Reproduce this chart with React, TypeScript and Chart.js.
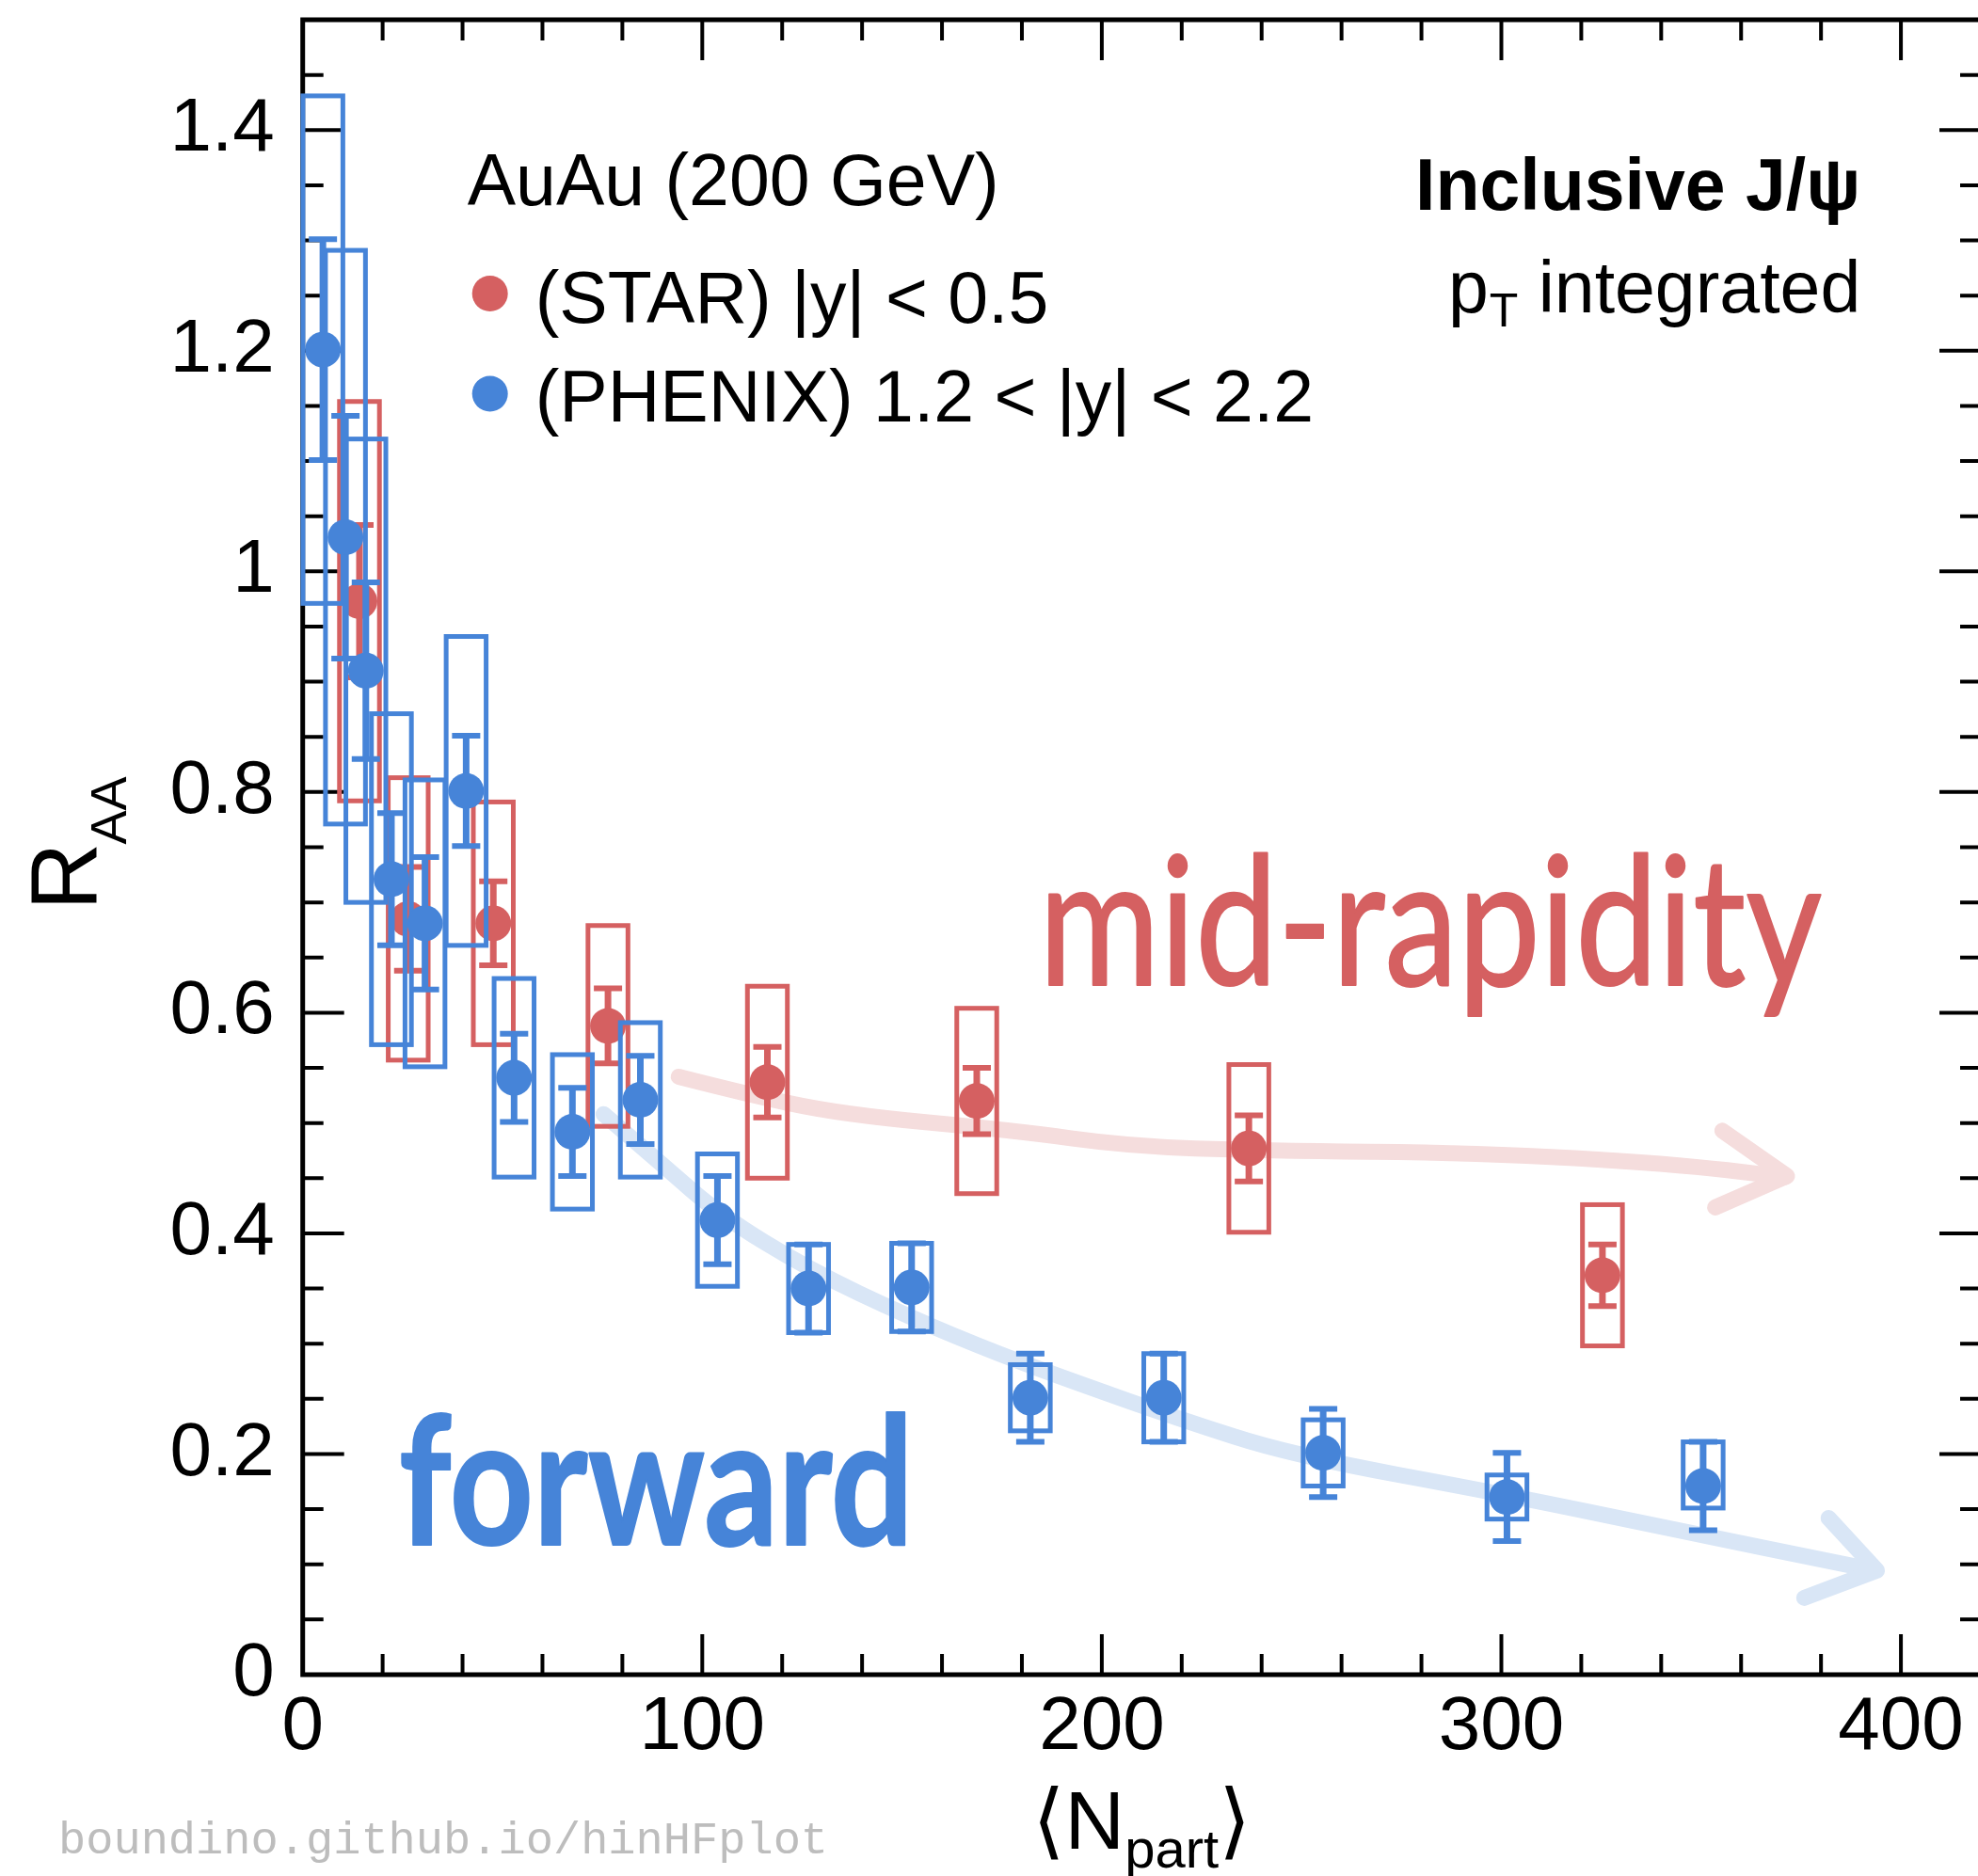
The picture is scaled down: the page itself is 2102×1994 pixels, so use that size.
import React, { useEffect, useRef } from "react";
import { Chart, registerables } from "chart.js";

Chart.register(...registerables);

const CANVAS_W = 2112;
const CANVAS_H = 1994;
const SANS = "'Liberation Sans', Arial, Helvetica, sans-serif";
const HAND = "Lato, 'Open Sans', sans-serif";
const RED = "#d56061";
const BLUE = "#4684d8";
const RED_TREND = "#f5dddd";
const BLUE_TREND = "#d9e6f6";

// STAR, |y| < 0.5 (mid-rapidity)
const starNpart = [14.2, 26.4, 47.7, 76.4, 116.3, 168.7, 236.8, 325.3];
const starRaa = [0.973, 0.685, 0.681, 0.588, 0.537, 0.52, 0.477, 0.362];
const starStat = [0.069, 0.047, 0.038, 0.034, 0.032, 0.03, 0.03, 0.028];
const starSyst = [0.181, 0.128, 0.11, 0.091, 0.087, 0.084, 0.076, 0.064];

// PHENIX, 1.2 < |y| < 2.2 (forward)
const phenixNpart = [5.05, 10.7, 15.8, 22.2, 30.6, 40.9, 52.9, 67.5, 84.5, 103.8, 126.6, 152.4, 182.1, 215.5, 255.4, 301.4, 350.5];
const phenixRaa = [1.201, 1.031, 0.91, 0.721, 0.681, 0.801, 0.541, 0.492, 0.521, 0.412, 0.35, 0.351, 0.251, 0.251, 0.201, 0.161, 0.171];
const phenixStat = [0.1, 0.11, 0.08, 0.06, 0.06, 0.05, 0.04, 0.04, 0.04, 0.04, 0.04, 0.04, 0.04, 0.04, 0.04, 0.04, 0.04];
const phenixSystUp = [0.23, 0.26, 0.21, 0.15, 0.13, 0.14, 0.09, 0.07, 0.07, 0.06, 0.04, 0.04, 0.03, 0.04, 0.03, 0.02, 0.04];
const phenixSystDown = [0.23, 0.26, 0.21, 0.15, 0.13, 0.14, 0.09, 0.07, 0.07, 0.06, 0.04, 0.04, 0.03, 0.04, 0.03, 0.02, 0.02];

// half width of the systematic boxes, in Npart
const BOX_HALF = 5;

// axis ticks
const xTickValues = [0, 100, 200, 300, 400];
const xTickLabels = ["0", "100", "200", "300", "400"];
const yTickValues = [0, 0.2, 0.4, 0.6, 0.8, 1, 1.2, 1.4];
const yTickLabels = ["0", "0.2", "0.4", "0.6", "0.8", "1", "1.2", "1.4"];
const X_MIN = 0, X_MAX = 420, X_MINOR = 20;
const Y_MIN = 0, Y_MAX = 1.5, Y_MINOR = 0.05;

// hand-drawn trend arrows (Npart, RAA)
const midTrendNpart = [94.1, 110.3, 134.4, 178.6, 206.8, 240, 294.7, 342, 371.1];
const midTrendRaa = [0.542, 0.527, 0.508, 0.493, 0.479, 0.475, 0.473, 0.4635, 0.451];
const midHeadNpart = [355.3, 371.5, 353.5];
const midHeadRaa = [0.493, 0.452, 0.4235];
const fwdTrendNpart = [75.3, 89.9, 104.3, 126.8, 151.9, 174.6, 195, 218.5, 247.4, 301.5, 342, 388.6, 393];
const fwdTrendRaa = [0.508, 0.4626, 0.417, 0.367, 0.324, 0.29, 0.263, 0.233, 0.199, 0.163, 0.1324, 0.098, 0.095];
const fwdHeadNpart = [381.9, 394, 375.8];
const fwdHeadRaa = [0.142, 0.0944, 0.0696];

// hand-written region labels, anchored in data space
const handLabels = [
  { text: "mid-rapidity", color: RED, from: 186.6, to: 380.2, raa: 0.625, size: 190, weight: 400, extra: 2 },
  { text: "forward", color: BLUE, from: 24.5, to: 151.0, raa: 0.1176, size: 190, weight: 700, extra: 2 },
];

type Sc = { getPixelForValue: (v: number) => number };

function strokeSmooth(ctx: CanvasRenderingContext2D, pts: { x: number; y: number }[]) {
  ctx.beginPath();
  ctx.moveTo(pts[0].x, pts[0].y);
  for (let i = 1; i < pts.length - 1; i++) {
    const mx = (pts[i].x + pts[i + 1].x) / 2;
    const my = (pts[i].y + pts[i + 1].y) / 2;
    ctx.quadraticCurveTo(pts[i].x, pts[i].y, mx, my);
  }
  const last = pts[pts.length - 1];
  ctx.lineTo(last.x, last.y);
  ctx.stroke();
}

function drawTrend(ctx: CanvasRenderingContext2D, xs: Sc, ys: Sc, nx: number[], ny: number[], hx: number[], hy: number[], color: string) {
  ctx.save();
  ctx.strokeStyle = color;
  ctx.lineWidth = 17;
  ctx.lineCap = "round";
  ctx.lineJoin = "round";
  strokeSmooth(ctx, nx.map((v, i) => ({ x: xs.getPixelForValue(v), y: ys.getPixelForValue(ny[i]) })));
  ctx.beginPath();
  hx.forEach((v, i) => {
    const px = xs.getPixelForValue(v);
    const py = ys.getPixelForValue(hy[i]);
    if (i === 0) ctx.moveTo(px, py);
    else ctx.lineTo(px, py);
  });
  ctx.stroke();
  ctx.restore();
}

function drawHand(ctx: CanvasRenderingContext2D, xs: Sc, ys: Sc, lbl: (typeof handLabels)[number]) {
  ctx.save();
  ctx.font = `${lbl.weight} ${lbl.size}px ${HAND}`;
  ctx.textAlign = "left";
  ctx.textBaseline = "alphabetic";
  const m = ctx.measureText(lbl.text);
  const ink = m.actualBoundingBoxLeft + m.actualBoundingBoxRight + lbl.extra;
  const x0 = xs.getPixelForValue(lbl.from);
  const x1 = xs.getPixelForValue(lbl.to);
  const y = ys.getPixelForValue(lbl.raa);
  ctx.translate(x0, y);
  ctx.scale((x1 - x0) / ink, 1);
  ctx.translate(m.actualBoundingBoxLeft + lbl.extra / 2, 0);
  ctx.fillStyle = lbl.color;
  ctx.strokeStyle = lbl.color;
  ctx.lineWidth = lbl.extra;
  ctx.lineJoin = "round";
  ctx.fillText(lbl.text, 0, 0);
  ctx.strokeText(lbl.text, 0, 0);
  ctx.restore();
}

const decor = {
  id: "decor",
  beforeDatasetsDraw(chart: any) {
    const { ctx, chartArea: a, scales } = chart;
    const xs = scales.x;
    const ys = scales.y;
    ctx.save();

    drawTrend(ctx, xs, ys, midTrendNpart, midTrendRaa, midHeadNpart, midHeadRaa, RED_TREND);
    drawTrend(ctx, xs, ys, fwdTrendNpart, fwdTrendRaa, fwdHeadNpart, fwdHeadRaa, BLUE_TREND);
    handLabels.forEach((l) => drawHand(ctx, xs, ys, l));

    // frame
    ctx.strokeStyle = "#000";
    ctx.lineWidth = 5;
    ctx.strokeRect(a.left, a.top, a.right - a.left, a.bottom - a.top);

    // inward ticks on all four sides
    ctx.lineWidth = 4;
    ctx.lineCap = "butt";
    ctx.beginPath();
    const nx = Math.round((X_MAX - X_MIN) / X_MINOR);
    for (let i = 1; i < nx; i++) {
      const v = X_MIN + i * X_MINOR;
      const len = xTickValues.includes(v) ? 43 : 22;
      const px = xs.getPixelForValue(v);
      ctx.moveTo(px, a.bottom);
      ctx.lineTo(px, a.bottom - len);
      ctx.moveTo(px, a.top);
      ctx.lineTo(px, a.top + len);
    }
    const ny = Math.round((Y_MAX - Y_MIN) / Y_MINOR);
    for (let i = 1; i < ny; i++) {
      const v = +(Y_MIN + i * Y_MINOR).toFixed(2);
      const len = yTickValues.includes(v) ? 44 : 22;
      const py = ys.getPixelForValue(v);
      ctx.moveTo(a.left, py);
      ctx.lineTo(a.left + len, py);
      ctx.moveTo(a.right, py);
      ctx.lineTo(a.right - len, py);
    }
    ctx.stroke();
    ctx.restore();
  },

  beforeDatasetDraw(chart: any, args: any) {
    const ds = chart.data.datasets[args.index];
    const { ctx, scales } = chart;
    const xs = scales.x;
    const ys = scales.y;
    ctx.save();
    ctx.strokeStyle = ds.backgroundColor;
    // systematic boxes
    ctx.lineWidth = 5;
    ds.data.forEach((p: any, i: number) => {
      const l = xs.getPixelForValue(p.x - BOX_HALF);
      const r = xs.getPixelForValue(p.x + BOX_HALF);
      const t = ys.getPixelForValue(p.y + ds.systUp[i]);
      const b = ys.getPixelForValue(p.y - ds.systDown[i]);
      ctx.strokeRect(l, t, r - l, b - t);
    });
    // statistical error bars
    ds.data.forEach((p: any, i: number) => {
      const px = xs.getPixelForValue(p.x);
      const t = ys.getPixelForValue(p.y + ds.stat[i]);
      const b = ys.getPixelForValue(p.y - ds.stat[i]);
      ctx.lineWidth = 7;
      ctx.beginPath();
      ctx.moveTo(px, t);
      ctx.lineTo(px, b);
      ctx.stroke();
      ctx.lineWidth = 6;
      ctx.beginPath();
      ctx.moveTo(px - 15, t);
      ctx.lineTo(px + 15, t);
      ctx.moveTo(px - 15, b);
      ctx.lineTo(px + 15, b);
      ctx.stroke();
    });
    ctx.restore();
  },

  afterDraw(chart: any) {
    const { ctx, chartArea: a } = chart;
    ctx.save();
    ctx.fillStyle = "#000";
    ctx.textAlign = "left";
    ctx.textBaseline = "alphabetic";

    // legend block
    ctx.font = `77px ${SANS}`;
    ctx.fillText("AuAu (200 GeV)", a.left + 175, a.top + 197);
    const entries = [
      { color: RED, text: "(STAR) |y| < 0.5", dy: 291, ty: 322 },
      { color: BLUE, text: "(PHENIX) 1.2 < |y| < 2.2", dy: 397.5, ty: 427 },
    ];
    entries.forEach((e) => {
      ctx.fillStyle = e.color;
      ctx.beginPath();
      ctx.arc(a.left + 199, a.top + e.dy, 19, 0, Math.PI * 2);
      ctx.fill();
      ctx.fillStyle = "#000";
      ctx.fillText(e.text, a.left + 247, a.top + e.ty);
    });

    // upper-right header
    const rightX = a.left + 1655.5;
    ctx.textAlign = "right";
    ctx.font = `bold 77px ${SANS}`;
    ctx.fillText("Inclusive J/\u03c8", rightX, a.top + 201.5);
    ctx.font = `77px ${SANS}`;
    const rest = " integrated";
    const restW = ctx.measureText(rest).width;
    ctx.fillText(rest, rightX, a.top + 311);
    ctx.font = `50px ${SANS}`;
    const tW = ctx.measureText("T").width;
    ctx.fillText("T", rightX - restW, a.top + 326);
    ctx.font = `77px ${SANS}`;
    ctx.fillText("p", rightX - restW - tW - 1, a.top + 311);

    // y-axis title R_AA
    ctx.textAlign = "left";
    ctx.font = `100px ${SANS}`;
    const rW = ctx.measureText("R").width;
    ctx.font = `54px ${SANS}`;
    const aaW = ctx.measureText("AA").width;
    const yTitleStart = (a.top + a.bottom) / 2 - 5 + (rW + aaW) / 2;
    ctx.save();
    ctx.translate(103, yTitleStart);
    ctx.rotate(-Math.PI / 2);
    ctx.font = `100px ${SANS}`;
    ctx.fillText("R", 0, 0);
    ctx.font = `54px ${SANS}`;
    ctx.fillText("AA", rW - 2, 31);
    ctx.restore();

    // x-axis title <N_part>
    const bracketFont = `88px 'DejaVu Sans', ${SANS}`;
    ctx.font = bracketFont;
    const lW = ctx.measureText("\u27e8").width;
    const rBW = ctx.measureText("\u27e9").width;
    ctx.font = `88px ${SANS}`;
    const nW = ctx.measureText("N").width;
    ctx.font = `58px ${SANS}`;
    const partW = ctx.measureText("part").width;
    const total = lW + nW + partW + rBW;
    let x = (a.left + a.right) / 2 - total / 2;
    const base = 1965;
    ctx.font = bracketFont;
    ctx.fillText("\u27e8", x, base);
    x += lW;
    ctx.font = `88px ${SANS}`;
    ctx.fillText("N", x, base);
    x += nW;
    ctx.font = `58px ${SANS}`;
    ctx.fillText("part", x, base + 20);
    x += partW;
    ctx.font = bracketFont;
    ctx.fillText("\u27e9", x, base);

    // site credit
    ctx.fillStyle = "#bdbdbd";
    ctx.font = `48.7px 'Liberation Mono', 'DejaVu Sans Mono', monospace`;
    ctx.fillText("boundino.github.io/hinHFplot", 62, 1970);
    ctx.restore();
  },
};

export default function App() {
  const ref = useRef<HTMLCanvasElement | null>(null);

  useEffect(() => {
    const canvas = ref.current;
    if (!canvas) return;
    const tickFont = { family: SANS, size: 80 };
    const chart = new Chart(canvas, {
      type: "scatter",
      data: {
        datasets: [
          {
            label: "(PHENIX) 1.2 < |y| < 2.2",
            data: phenixNpart.map((x, i) => ({ x, y: phenixRaa[i] })),
            backgroundColor: BLUE,
            borderColor: BLUE,
            borderWidth: 0,
            pointRadius: 19,
            pointHoverRadius: 19,
            order: 0,
            stat: phenixStat,
            systUp: phenixSystUp,
            systDown: phenixSystDown,
          } as any,
          {
            label: "(STAR) |y| < 0.5",
            data: starNpart.map((x, i) => ({ x, y: starRaa[i] })),
            backgroundColor: RED,
            borderColor: RED,
            borderWidth: 0,
            pointRadius: 19,
            pointHoverRadius: 19,
            order: 1,
            stat: starStat,
            systUp: starSyst,
            systDown: starSyst,
          } as any,
        ],
      },
      options: {
        responsive: false,
        animation: false,
        devicePixelRatio: 1,
        events: [],
        layout: { autoPadding: false, padding: { top: 21, right: CANVAS_W - 2105, left: 0, bottom: 0 } },
        plugins: { legend: { display: false }, tooltip: { enabled: false }, title: { display: false } },
        scales: {
          x: {
            type: "linear",
            min: X_MIN,
            max: X_MAX,
            grid: { display: false, drawTicks: false, tickLength: 0 },
            border: { display: false },
            afterBuildTicks: (s: any) => {
              s.ticks = xTickValues.map((v) => ({ value: v }));
            },
            afterFit: (s: any) => {
              s.height = CANVAS_H - 1780;
              s.paddingLeft = 0;
              s.paddingRight = 0;
              s.paddingTop = 0;
              s.paddingBottom = 0;
            },
            ticks: {
              font: tickFont,
              color: "#000",
              padding: 9,
              maxRotation: 0,
              autoSkip: false,
              callback: (v: any) => xTickLabels[xTickValues.indexOf(Number(v))] ?? "",
            },
          },
          y: {
            type: "linear",
            min: Y_MIN,
            max: Y_MAX,
            grid: { display: false, drawTicks: false, tickLength: 0 },
            border: { display: false },
            afterBuildTicks: (s: any) => {
              s.ticks = yTickValues.map((v) => ({ value: v }));
            },
            afterFit: (s: any) => {
              s.width = 321.7;
              s.paddingLeft = 0;
              s.paddingRight = 0;
              s.paddingTop = 0;
              s.paddingBottom = 0;
            },
            ticks: {
              font: tickFont,
              color: "#000",
              padding: 30,
              autoSkip: false,
              callback: (v: any) => yTickLabels[yTickValues.indexOf(Number(v))] ?? "",
            },
          },
        },
      } as any,
      plugins: [decor],
    });
    return () => chart.destroy();
  }, []);

  return (
    <div
      style={{
        position: "fixed",
        left: 0,
        top: 0,
        width: 2102,
        height: 1994,
        overflow: "hidden",
        background: "#fff",
      }}
    >
      <canvas
        ref={ref}
        width={CANVAS_W}
        height={CANVAS_H}
        style={{ display: "block", width: CANVAS_W, height: CANVAS_H }}
      />
    </div>
  );
}
